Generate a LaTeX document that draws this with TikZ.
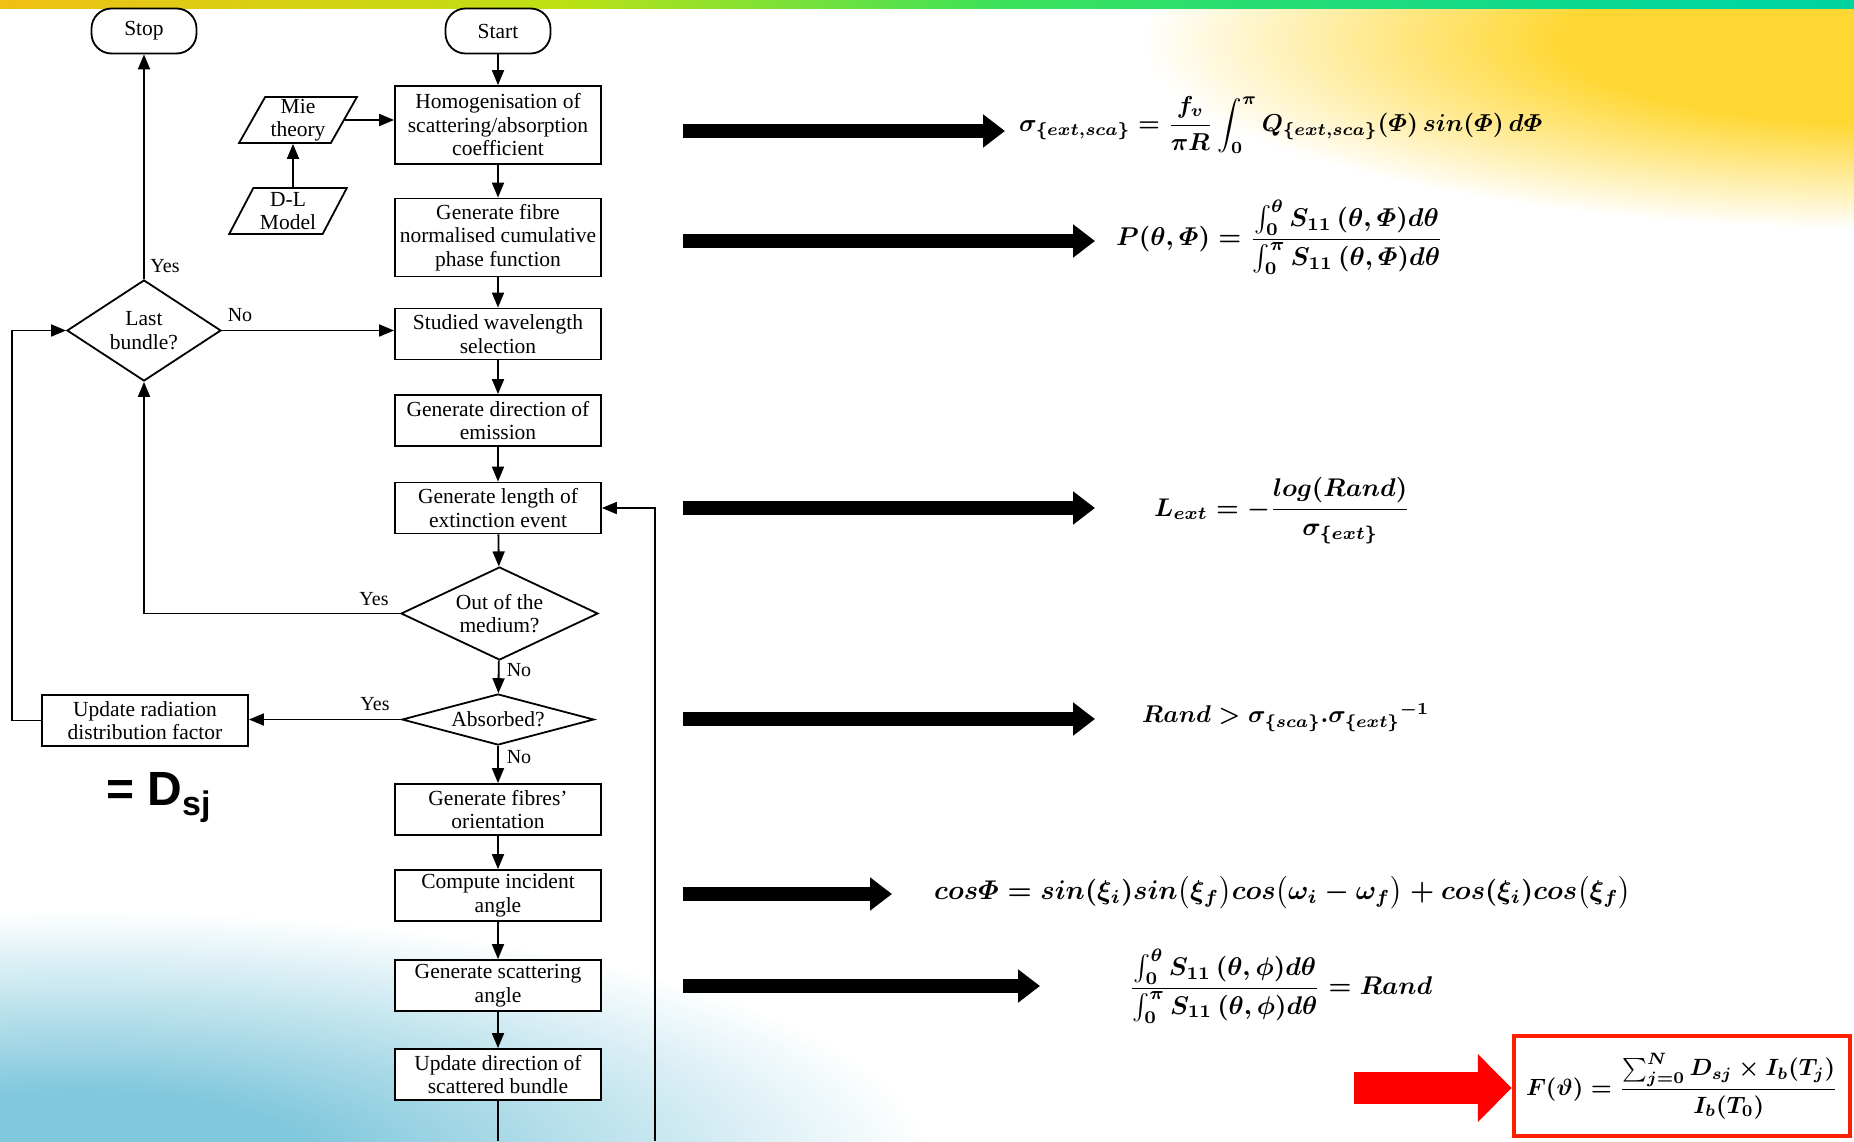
\documentclass[tikz,border=0pt]{standalone}
\usepackage{amsmath}
\usepackage[no-math]{fontspec}
\setmainfont{Liberation Serif}
\newfontfamily\headfont{Liberation Sans}
\usetikzlibrary{arrows.meta,shapes.geometric}

\definecolor{bandA}{RGB}{240,110,30}
\definecolor{bandB}{RGB}{250,185,20}
\definecolor{bandC}{RGB}{190,225,20}
\definecolor{bandD}{RGB}{60,225,90}
\definecolor{bandE}{RGB}{0,215,160}
\definecolor{bandF}{RGB}{0,165,160}
\definecolor{sunyellow}{RGB}{255,215,50}
\definecolor{cloudblue}{RGB}{130,200,220}
\definecolor{boxred}{RGB}{255,30,0}

\pgfdeclarehorizontalshading{topband}{100bp}{color(0bp)=(bandA); color(22bp)=(bandB); color(40bp)=(bandC); color(52bp)=(bandD); color(72bp)=(bandE); color(100bp)=(bandF)}
\pgfdeclareradialshading{sun}{\pgfpoint{0bp}{0bp}}{color(0bp)=(sunyellow); color(11bp)=(sunyellow); color(25bp)=(white); color(50bp)=(white)}
\pgfdeclareradialshading{cloud}{\pgfpoint{0bp}{0bp}}{color(0bp)=(cloudblue); color(7bp)=(cloudblue); color(25bp)=(white); color(50bp)=(white)}

\newcommand{\flowfont}{\fontsize{21.5}{23.5}\selectfont}

\tikzset{
  proc/.style={draw, fill=white, line width=1.8pt, minimum width=206pt, minimum height=51pt, inner sep=2pt, align=center, font=\flowfont},
  term/.style={draw, fill=white, line width=1.8pt, rounded corners=20pt, minimum width=105pt, minimum height=45pt, font=\flowfont},
  decide/.style={draw, fill=white, diamond, line width=1.8pt, inner sep=0pt, align=center, font=\flowfont},
  inout/.style={draw, fill=white, trapezium, trapezium left angle=63, trapezium right angle=117, trapezium stretches=true, line width=1.8pt, inner sep=1pt, minimum width=118pt, minimum height=46pt, align=center, font=\flowfont},
  flow/.style={line width=1.8pt, -{Triangle[length=15pt,width=12pt]}},
  link/.style={line width=1.8pt},
  answer/.style={font=\fontsize{20}{20}\selectfont, inner sep=0pt},
  bigarrow/.style={line width=14pt, -{Triangle[length=22pt,width=32pt]}},
  eq/.style={anchor=west, inner sep=0pt, font=\boldmath}
}

\begin{document}
\begin{tikzpicture}[x=1pt, y=-1pt]
  \useasboundingbox (0,0) rectangle (1854,1141);
  \shade[shading=sun] (1900,40) ellipse (760 and 190);
  \shade[shading=cloud] (80,1160) ellipse (850 and 250);
  \shade[shading=topband] (0,0) rectangle (1854,8);

  \node[term] (stop) at (144,31) {Stop};
  \node[term] (start) at (498,31) {Start};
  \node[proc, minimum height=78pt] (homog) at (498,125) {Homogenisation of\\scattering/absorption\\coefficient};
  \node[inout] (mie) at (298,120) {Mie\\theory};
  \node[inout] (dl) at (288,211) {D-L\\Model};
  \node[proc, minimum height=78pt] (fibre) at (498,237.5) {Generate fibre\\normalised cumulative\\phase function};
  \node[proc] (wave) at (498,334) {Studied wavelength\\selection};
  \node[decide, minimum width=154pt, minimum height=101pt, shape aspect=1.52] (last) at (144,330.5) {Last\\bundle?};
  \node[proc] (emis) at (498,420.5) {Generate direction of\\emission};
  \node[proc] (len) at (498,508) {Generate length of\\extinction event};
  \node[decide, minimum width=197pt, minimum height=93pt, shape aspect=2.12] (out) at (499.5,613.5) {Out of the\\medium?};
  \node[decide, minimum width=192pt, minimum height=51pt, shape aspect=3.76] (absb) at (498,719.5) {Absorbed?};
  \node[proc] (radi) at (145,720.5) {Update radiation\\distribution factor};
  \node[proc] (orient) at (498,809.5) {Generate fibres'\\orientation};
  \node[proc] (inc) at (498,895.5) {Compute incident\\angle};
  \node[proc] (scat) at (498,985.5) {Generate scattering\\angle};
  \node[proc] (upd) at (498,1074.5) {Update direction of\\scattered bundle};

  \node[answer] (yes1) at (165,266) {Yes};
  \node[answer] (no1) at (240,315) {No};
  \node[answer] (yes2) at (374,599) {Yes};
  \node[answer] (no2) at (519,670) {No};
  \node[answer] (yes3) at (375,704) {Yes};
  \node[answer] (no3) at (519,757) {No};

  \node[anchor=base west, inner sep=0pt, font=\headfont\bfseries\fontsize{48}{48}\selectfont] (dsj) at (106,805) {= D\raisebox{-10pt}{\fontsize{34}{34}\selectfont sj}};

  \draw[flow] (start) -- (homog);
  \draw[flow] (homog) -- (fibre);
  \draw[flow] (fibre) -- (wave);
  \draw[flow] (wave) -- (emis);
  \draw[flow] (emis) -- (len);
  \draw[flow] (len) -- (out);
  \draw[flow] (out) -- (absb);
  \draw[flow] (absb) -- (orient);
  \draw[flow] (orient) -- (inc);
  \draw[flow] (inc) -- (scat);
  \draw[flow] (scat) -- (upd);
  \draw[flow] (mie) -- (mie -| homog.west);
  \draw[flow] (dl.north -| 293,0) -- (mie.south -| 293,0);
  \draw[flow] (last) -- (stop);
  \draw[flow] (last.east) -- (last.east -| wave.west);
  \draw[flow] (out.west) -| (last.south);
  \draw[flow] (absb.west) -- (absb.west -| radi.east);
  \draw[flow] (radi.west) -- ++(-29,0) |- (last.west);
  \coordinate (bot) at (498,1141);
  \draw[link] (upd.south) -- (upd.south |- bot);
  \coordinate (back) at (655,1141);
  \draw[flow] (back) |- (len.east);

  \node[eq] (f1) at (1019,125) {\resizebox{523pt}{!}{$\displaystyle\sigma_{\{ext,sca\}}=\frac{f_v}{\pi R}\int_0^{\pi}Q_{\{ext,sca\}}(\varPhi)\,sin(\varPhi)\,d\varPhi$}};
  \node[eq] (f2) at (1116,237) {\resizebox{327pt}{!}{$\displaystyle P(\theta,\varPhi)=\frac{\int_0^{\theta}S_{11}\,(\theta,\varPhi)d\theta}{\int_0^{\pi}S_{11}\,(\theta,\varPhi)d\theta}$}};
  \node[eq] (f3) at (1154,511) {\resizebox{256pt}{!}{$\displaystyle L_{ext}=-\frac{log(Rand)}{\sigma_{\{ext\}}}$}};
  \node[eq] (f4) at (1142,717) {\resizebox{287pt}{!}{$Rand>\sigma_{\{sca\}}.{\sigma_{\{ext\}}}^{-1}$}};
  \node[eq] (f5) at (934,893) {\resizebox{697pt}{!}{$cos\varPhi=sin(\xi_i)sin\bigl(\xi_f\bigr)cos\bigl(\omega_i-\omega_f\bigr)+cos(\xi_i)cos\bigl(\xi_f\bigr)$}};
  \node[eq] (f6) at (1129,986) {\resizebox{303pt}{!}{$\displaystyle\frac{\int_0^{\theta}S_{11}\,(\theta,\phi)d\theta}{\int_0^{\pi}S_{11}\,(\theta,\phi)d\theta}=Rand$}};
  \node[draw=boxred, fill=white, line width=4.5pt, minimum width=336pt, minimum height=100pt, inner sep=0pt, font=\boldmath] (f7) at (1682,1086) {\resizebox{312pt}{!}{$\displaystyle F(\vartheta)=\frac{\sum_{j=0}^{N}D_{sj}\times I_b(T_j)}{I_b(T_0)}$}};

  \coordinate (t1) at (683,131);
  \coordinate (t2) at (683,241);
  \coordinate (t3) at (683,508);
  \coordinate (t4) at (683,719);
  \coordinate (t5) at (683,894);
  \coordinate (t6) at (683,986);
  \coordinate (t7) at (1354,1088);
  \draw[bigarrow, shorten >=14pt] (t1) -- (t1 -| f1.west);
  \draw[bigarrow, shorten >=21pt] (t2) -- (t2 -| f2.west);
  \draw[bigarrow, shorten >=59pt] (t3) -- (t3 -| f3.west);
  \draw[bigarrow, shorten >=47pt] (t4) -- (t4 -| f4.west);
  \draw[bigarrow, shorten >=42pt] (t5) -- (t5 -| f5.west);
  \draw[bigarrow, shorten >=89pt] (t6) -- (t6 -| f6.west);
  \draw[red, line width=32pt, -{Triangle[length=34pt,width=66pt]}] (t7) -- (t7 -| f7.west);
\end{tikzpicture}
\end{document}
